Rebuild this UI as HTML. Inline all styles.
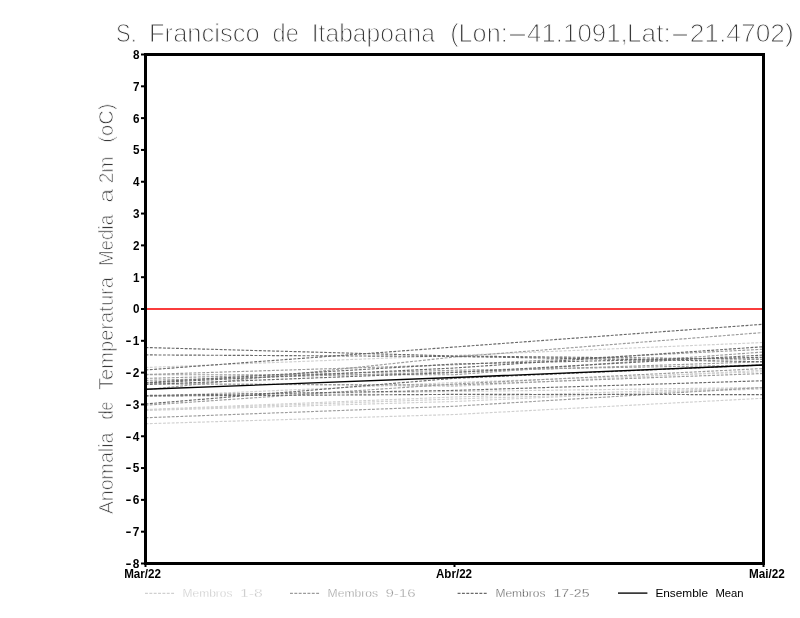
<!DOCTYPE html>
<html lang="pt">
<head>
<meta charset="utf-8">
<title>S. Francisco de Itabapoana</title>
<style>
html,body{margin:0;padding:0;background:#fff;}
body{width:800px;height:618px;overflow:hidden;}
svg{display:block;}
text{font-family:"Liberation Sans",sans-serif;}
.thin{fill:#3a3a3a;stroke:#fff;paint-order:fill stroke;}
.tick{font-weight:bold;fill:#000;}
.mem{fill:none;stroke-width:1.15;stroke-dasharray:2.9 1.46;}
</style>
</head>
<body>
<svg width="800" height="618" viewBox="0 0 800 618">
<rect x="0" y="0" width="800" height="618" fill="#fff"/>

<g class="thin" font-size="26.0" stroke-width="1.0">
<text id="title" y="42.0"><tspan id="t0" x="116.10" textLength="20.70" lengthAdjust="spacingAndGlyphs">S.</tspan> <tspan id="t1" x="149.00" textLength="110.80" lengthAdjust="spacingAndGlyphs">Francisco</tspan> <tspan id="t2" x="272.62" textLength="26.22" lengthAdjust="spacingAndGlyphs">de</tspan> <tspan id="t3" x="311.77" textLength="123.22" lengthAdjust="spacingAndGlyphs">Itabapoana</tspan> <tspan id="t4" x="450.20" textLength="57.50" lengthAdjust="spacingAndGlyphs">(Lon:</tspan><tspan id="t5" x="505.50" textLength="24.00" lengthAdjust="spacingAndGlyphs">-</tspan><tspan id="t6" x="527.10" textLength="100.60" lengthAdjust="spacingAndGlyphs">41.1091,</tspan><tspan id="t7" x="627.00" textLength="43.70" lengthAdjust="spacingAndGlyphs">Lat:</tspan><tspan id="t8" x="668.90" textLength="22.20" lengthAdjust="spacingAndGlyphs">-</tspan><tspan id="t9" x="689.68" textLength="104.12" lengthAdjust="spacingAndGlyphs">21.4702)</tspan></text>
</g>
<g class="thin" font-size="20.0" stroke-width="0.75" transform="translate(113.0,0) rotate(-90)">
<text id="ylab" y="0"><tspan id="y0" x="-514.33" textLength="81.85" lengthAdjust="spacingAndGlyphs">Anomalia</tspan> <tspan id="y1" x="-419.60" textLength="18.10" lengthAdjust="spacingAndGlyphs">de</tspan> <tspan id="y2" x="-390.09" textLength="113.09" lengthAdjust="spacingAndGlyphs">Temperatura</tspan> <tspan id="y3" x="-266.04" textLength="51.18" lengthAdjust="spacingAndGlyphs">Media</tspan> <tspan id="y4" x="-202.85" textLength="13.85" lengthAdjust="spacingAndGlyphs">a</tspan> <tspan id="y5" x="-183.28" textLength="26.61" lengthAdjust="spacingAndGlyphs">2m</tspan> <tspan id="y6" x="-142.66" textLength="39.08" lengthAdjust="spacingAndGlyphs">(oC)</tspan></text>
</g>
<g class="mem">
<polyline stroke="#d0d0d0" points="145.5,367.5 454.5,355.5 763.5,342.5"/>
<polyline stroke="#d0d0d0" points="145.5,409.5 454.5,397 763.5,387.5"/>
<polyline stroke="#d0d0d0" points="145.5,423.75 454.5,414.5 763.5,398.25"/>
<polyline stroke="#d0d0d0" points="145.5,410.5 454.5,401.5 763.5,387.5"/>
<polyline stroke="#d0d0d0" points="145.5,396 454.5,391.5 763.5,387.5"/>
<polyline stroke="#d0d0d0" points="145.5,410 454.5,399 763.5,389"/>
<polyline stroke="#d0d0d0" points="145.5,396.5 454.5,382.5 763.5,371.75"/>
<polyline stroke="#d0d0d0" points="145.5,383 454.5,386.4 763.5,370.25"/>
<polyline stroke="#9c9c9c" points="145.5,389.8 454.5,357 763.5,332.5"/>
<polyline stroke="#9c9c9c" points="145.5,374.5 454.5,364.75 763.5,349.25"/>
<polyline stroke="#9c9c9c" points="145.5,374.8 454.5,374.7 763.5,352"/>
<polyline stroke="#9c9c9c" points="145.5,417.75 454.5,406.25 763.5,387.5"/>
<polyline stroke="#9c9c9c" points="145.5,378.4 454.5,370.25 763.5,365"/>
<polyline stroke="#9c9c9c" points="145.5,380.4 454.5,372 763.5,361.75"/>
<polyline stroke="#9c9c9c" points="145.5,405.25 454.5,384 763.5,368.5"/>
<polyline stroke="#9c9c9c" points="145.5,384 454.5,385 763.5,373.5"/>
<polyline stroke="#6a6a6a" points="145.5,347.5 454.5,356 763.5,359.25"/>
<polyline stroke="#6a6a6a" points="145.5,354.9 454.5,356.5 763.5,361.75"/>
<polyline stroke="#6a6a6a" points="145.5,370 454.5,347 763.5,324.25"/>
<polyline stroke="#6a6a6a" points="145.5,383 454.5,368 763.5,346.75"/>
<polyline stroke="#6a6a6a" points="145.5,384.5 454.5,372.5 763.5,355"/>
<polyline stroke="#6a6a6a" points="145.5,382.5 454.5,364 763.5,357.25"/>
<polyline stroke="#6a6a6a" points="145.5,404 454.5,378.3 763.5,365"/>
<polyline stroke="#6a6a6a" points="145.5,395.5 454.5,390.4 763.5,380.75"/>
<polyline stroke="#6a6a6a" points="145.5,396 454.5,394.4 763.5,394.6"/>
</g>
<polyline fill="none" stroke="#000" stroke-width="1.3" points="145.5,389.25 454.5,377.5 763.5,365"/>
<rect x="147" y="308" width="615" height="2" fill="#fa3c3c"/>
<rect x="145.5" y="54.5" width="618" height="509" fill="none" stroke="#000" stroke-width="3"/>
<g fill="#000">
<rect x="141" y="53.50" width="4" height="2"/>
<rect x="141" y="85.31" width="4" height="2"/>
<rect x="141" y="117.12" width="4" height="2"/>
<rect x="141" y="148.94" width="4" height="2"/>
<rect x="141" y="180.75" width="4" height="2"/>
<rect x="141" y="212.56" width="4" height="2"/>
<rect x="141" y="244.38" width="4" height="2"/>
<rect x="141" y="276.19" width="4" height="2"/>
<rect x="141" y="308.00" width="4" height="2"/>
<rect x="141" y="339.81" width="4" height="2"/>
<rect x="141" y="371.62" width="4" height="2"/>
<rect x="141" y="403.44" width="4" height="2"/>
<rect x="141" y="435.25" width="4" height="2"/>
<rect x="141" y="467.06" width="4" height="2"/>
<rect x="141" y="498.88" width="4" height="2"/>
<rect x="141" y="530.69" width="4" height="2"/>
<rect x="141" y="562.50" width="4" height="2"/>
<rect x="144.5" y="565" width="2" height="2"/>
<rect x="453.5" y="565" width="2" height="2"/>
<rect x="762.5" y="565" width="2" height="2"/>
</g>
<g class="tick" font-size="13.4">
<text id="v16" y="58.90"><tspan id="v16d" x="132.90" textLength="6.50" lengthAdjust="spacingAndGlyphs">8</tspan></text>
<text id="v15" y="90.71"><tspan id="v15d" x="132.90" textLength="6.50" lengthAdjust="spacingAndGlyphs">7</tspan></text>
<text id="v14" y="122.53"><tspan id="v14d" x="132.90" textLength="6.50" lengthAdjust="spacingAndGlyphs">6</tspan></text>
<text id="v13" y="154.34"><tspan id="v13d" x="132.90" textLength="6.50" lengthAdjust="spacingAndGlyphs">5</tspan></text>
<text id="v12" y="186.15"><tspan id="v12d" x="132.90" textLength="6.50" lengthAdjust="spacingAndGlyphs">4</tspan></text>
<text id="v11" y="217.96"><tspan id="v11d" x="132.90" textLength="6.50" lengthAdjust="spacingAndGlyphs">3</tspan></text>
<text id="v10" y="249.78"><tspan id="v10d" x="132.90" textLength="6.50" lengthAdjust="spacingAndGlyphs">2</tspan></text>
<text id="v9" y="281.59"><tspan id="v9d" x="132.90" textLength="6.50" lengthAdjust="spacingAndGlyphs">1</tspan></text>
<text id="v8" y="313.40"><tspan id="v8d" x="132.90" textLength="6.50" lengthAdjust="spacingAndGlyphs">0</tspan></text>
<text id="v7" y="345.21"><tspan id="v7m" x="125.40" textLength="6.00" lengthAdjust="spacingAndGlyphs">-</tspan><tspan id="v7d" x="132.70" textLength="6.60" lengthAdjust="spacingAndGlyphs">1</tspan></text>
<text id="v6" y="377.02"><tspan id="v6m" x="125.40" textLength="6.00" lengthAdjust="spacingAndGlyphs">-</tspan><tspan id="v6d" x="132.70" textLength="6.60" lengthAdjust="spacingAndGlyphs">2</tspan></text>
<text id="v5" y="408.84"><tspan id="v5m" x="125.40" textLength="6.00" lengthAdjust="spacingAndGlyphs">-</tspan><tspan id="v5d" x="132.70" textLength="6.60" lengthAdjust="spacingAndGlyphs">3</tspan></text>
<text id="v4" y="440.65"><tspan id="v4m" x="125.40" textLength="6.00" lengthAdjust="spacingAndGlyphs">-</tspan><tspan id="v4d" x="132.70" textLength="6.60" lengthAdjust="spacingAndGlyphs">4</tspan></text>
<text id="v3" y="472.46"><tspan id="v3m" x="125.40" textLength="6.00" lengthAdjust="spacingAndGlyphs">-</tspan><tspan id="v3d" x="132.70" textLength="6.60" lengthAdjust="spacingAndGlyphs">5</tspan></text>
<text id="v2" y="504.27"><tspan id="v2m" x="125.40" textLength="6.00" lengthAdjust="spacingAndGlyphs">-</tspan><tspan id="v2d" x="132.70" textLength="6.60" lengthAdjust="spacingAndGlyphs">6</tspan></text>
<text id="v1" y="536.09"><tspan id="v1m" x="125.40" textLength="6.00" lengthAdjust="spacingAndGlyphs">-</tspan><tspan id="v1d" x="132.70" textLength="6.60" lengthAdjust="spacingAndGlyphs">7</tspan></text>
<text id="v0" y="567.90"><tspan id="v0m" x="125.40" textLength="6.00" lengthAdjust="spacingAndGlyphs">-</tspan><tspan id="v0d" x="132.70" textLength="6.60" lengthAdjust="spacingAndGlyphs">8</tspan></text>
</g>
<g class="tick" font-size="13.6">
<text id="xt0" y="577.6"><tspan id="x0" x="124.20" textLength="36.80" lengthAdjust="spacingAndGlyphs">Mar/22</tspan></text>
<text id="xt1" y="577.6"><tspan id="x1" x="436.00" textLength="36.00" lengthAdjust="spacingAndGlyphs">Abr/22</tspan></text>
<text id="xt2" y="577.6"><tspan id="x2" x="749.00" textLength="35.80" lengthAdjust="spacingAndGlyphs">Mai/22</tspan></text>
</g>
<g fill="none" stroke-width="1.15">
<line x1="145" y1="593.3" x2="174.4" y2="593.3" stroke="#d0d0d0" stroke-dasharray="2.9 1.46"/>
<line x1="290" y1="593.3" x2="320" y2="593.3" stroke="#9c9c9c" stroke-dasharray="2.9 1.46"/>
<line x1="457.6" y1="593.3" x2="487.2" y2="593.3" stroke="#6a6a6a" stroke-dasharray="2.9 1.46"/>
<line x1="618" y1="593.1" x2="647.4" y2="593.1" stroke="#000" stroke-width="1.35"/>
</g>
<g font-size="11.2" stroke="#fff" stroke-width="0.35" paint-order="fill stroke">
<text id="l0" y="596.6" fill="#c0c0c0"><tspan id="l0a" x="182.60" textLength="49.80" lengthAdjust="spacingAndGlyphs">Membros</tspan> <tspan id="l0b" x="240.10" textLength="22.66" lengthAdjust="spacingAndGlyphs">1-8</tspan></text>
<text id="l1" y="596.6" fill="#868686"><tspan id="l1a" x="327.60" textLength="50.40" lengthAdjust="spacingAndGlyphs">Membros</tspan> <tspan id="l1b" x="385.40" textLength="30.20" lengthAdjust="spacingAndGlyphs">9-16</tspan></text>
<text id="l2" y="596.6" fill="#404040"><tspan id="l2a" x="495.40" textLength="50.00" lengthAdjust="spacingAndGlyphs">Membros</tspan> <tspan id="l2b" x="553.40" textLength="36.20" lengthAdjust="spacingAndGlyphs">17-25</tspan></text>
<text id="l3" y="596.6" fill="#000" stroke="none"><tspan id="l3a" x="655.40" textLength="52.60" lengthAdjust="spacingAndGlyphs">Ensemble</tspan> <tspan id="l3b" x="715.40" textLength="28.20" lengthAdjust="spacingAndGlyphs">Mean</tspan></text>
</g>
</svg>
</body>
</html>
